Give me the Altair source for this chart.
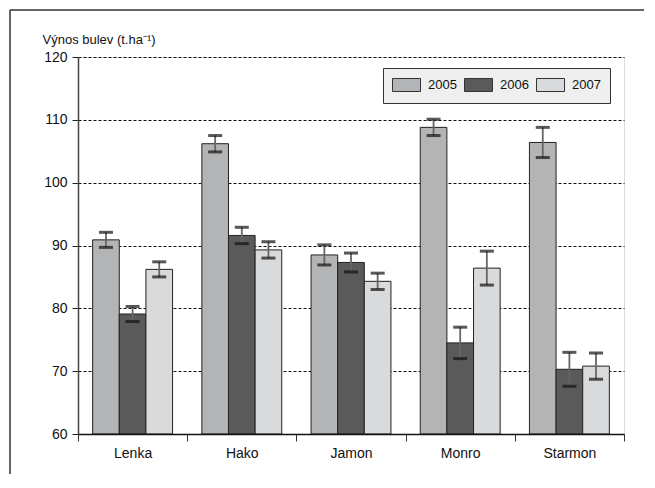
import altair as alt
import pandas as pd

varieties = ["Lenka", "Hako", "Jamon", "Monro", "Starmon"]
years = ["2005", "2006", "2007"]
y2005 = [90.9, 106.2, 88.5, 108.8, 106.4]
y2006 = [79.1, 91.6, 87.3, 74.5, 70.3]
y2007 = [86.2, 89.3, 84.3, 86.4, 70.8]
e2005 = [1.2, 1.3, 1.6, 1.3, 2.4]
e2006 = [1.2, 1.3, 1.5, 2.5, 2.7]
e2007 = [1.2, 1.3, 1.3, 2.7, 2.1]
colors = ["#b3b4b5", "#5a5a5a", "#d9dadb"]

rows = []
for yr, vals, errs in zip(years, [y2005, y2006, y2007], [e2005, e2006, e2007]):
    for v, val, err in zip(varieties, vals, errs):
        rows.append({"odruda": v, "rok": yr, "vynos": val, "lo": val - err, "hi": val + err})
df = pd.DataFrame(rows)

FONT = "Liberation Sans"
FS = 14

x_enc = alt.X("odruda:N", sort=varieties, title=None,
              scale=alt.Scale(paddingInner=0, paddingOuter=0),
              axis=alt.Axis(tickBand="extent", labelAngle=0, labelFontSize=FS, labelFont=FONT,
                            labelColor="#111", domainColor="#111", domainWidth=1.5,
                            tickColor="#333", tickSize=7, labelPadding=5, zindex=1))
xo_enc = alt.XOffset("rok:N", sort=years, scale=alt.Scale(paddingInner=0, paddingOuter=0.55))
y_scale = alt.Scale(domain=[60, 120], nice=False, zero=False)
y_enc = alt.Y("vynos:Q", scale=y_scale,
              axis=alt.Axis(values=[60, 70, 80, 90, 100, 110, 120], grid=True, gridColor="#111",
                            gridDash=[3, 2], gridWidth=1, tickColor="#222", tickSize=6,
                            labelFontSize=FS, labelFont=FONT, labelColor="#111", labelPadding=5,
                            domainColor="#444", domainWidth=1.5,
                            title="Výnos bulev (t.ha⁻¹)", titleAngle=0, titleAlign="left",
                            titleBaseline="alphabetic", titleX=-36, titleY=-14,
                            titleFont=FONT, titleFontSize=13, titleFontWeight="normal",
                            titleColor="#111"))

bars = alt.Chart(df).mark_bar(stroke="#222", strokeWidth=1).encode(
    x=x_enc,
    xOffset=xo_enc,
    y=y_enc,
    y2=alt.datum(60),
    color=alt.Color("rok:N", sort=years, scale=alt.Scale(domain=years, range=colors),
                    legend=alt.Legend(title=None, orient="none", legendX=305, legendY=11,
                                      direction="horizontal", columns=3,
                                      symbolType="M-2,-0.93L2,-0.93L2,0.93L-2,0.93Z",
                                      symbolSize=196, symbolOffset=7,
                                      symbolStrokeColor="#333",
                                      symbolStrokeWidth=1, labelFont=FONT, labelFontSize=13,
                                      labelColor="#111", labelOffset=14, columnPadding=5,
                                      padding=9, strokeColor="#333", fillColor="#eeefee")),
)

stems = alt.Chart(df).mark_rule(color="#666", strokeWidth=1.8).encode(
    x=alt.X("odruda:N", sort=varieties),
    xOffset=alt.XOffset("rok:N", sort=years),
    y=alt.Y("lo:Q", scale=y_scale),
    y2="hi:Q",
)
caps_lo = alt.Chart(df).mark_tick(color="#111", size=14, thickness=3).encode(
    x=alt.X("odruda:N", sort=varieties),
    xOffset=alt.XOffset("rok:N", sort=years),
    y=alt.Y("lo:Q", scale=y_scale),
)
caps_hi = alt.Chart(df).mark_tick(color="#111", size=14, thickness=3).encode(
    x=alt.X("odruda:N", sort=varieties),
    xOffset=alt.XOffset("rok:N", sort=years),
    y=alt.Y("hi:Q", scale=y_scale),
)

one = pd.DataFrame({"k": [0]})
frame_top = alt.Chart(one).mark_rule(color="#333", strokeWidth=1.5).encode(
    x=alt.value(-68), x2=alt.value(700), y=alt.value(-47))
frame_left = alt.Chart(one).mark_rule(color="#333", strokeWidth=1.5).encode(
    x=alt.value(-68), y=alt.value(-47), y2=alt.value(600))

chart = alt.layer(bars, stems, caps_lo, caps_hi, frame_top, frame_left).properties(
    width=546, height=377, autosize="none",
    padding={"left": 70, "top": 49, "right": 20, "bottom": 40},
).configure_view(fill="#eeefee", stroke="#8a8a8a", strokeWidth=1.5).configure(background="white")

chart.save("out.html", embed_options={"renderer": "svg", "actions": False})
